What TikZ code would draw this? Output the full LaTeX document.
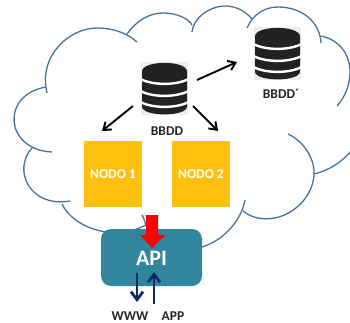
\documentclass[tikz,border=0pt]{standalone}
\usepackage{fontspec}
\setmainfont{Carlito}
\usetikzlibrary{arrows.meta}
\definecolor{cloudc}{HTML}{4A7299}
\definecolor{nodoc}{HTML}{FFC010}
\definecolor{apic}{HTML}{31859C}
\definecolor{navyc}{HTML}{10286A}
\definecolor{dbc}{HTML}{222222}
\definecolor{dbbg}{HTML}{EDEDED}
\tikzset{
  cloudarc/.style={draw=cloudc,line width=1.3pt},
  nodobox/.style={fill=nodoc,minimum width=58pt,minimum height=66pt,inner sep=0pt,text=white,font=\fontsize{13.5}{14}\selectfont\bfseries},
  apibox/.style={fill=apic,rounded corners=10pt,minimum width=101pt,minimum height=57pt,inner sep=0pt},
  dbbox/.style={fill=dbbg,minimum width=47pt,minimum height=53pt,inner sep=0pt},
  dblabel/.style={inner sep=0pt,text=black!85,font=\fontsize{13.5}{14}\selectfont\bfseries},
  bottomlabel/.style={inner sep=0pt,text=black!85,font=\fontsize{13.5}{14}\selectfont\bfseries},
  blackarrow/.style={draw=black,line width=1.9pt,-{Straight Barb[length=7pt,width=10pt,line width=1.9pt]}},
  navyarrow/.style={draw=navyc,line width=2.8pt,-{Straight Barb[length=8pt,width=12pt,line width=2.8pt]}},
  redarrow/.style={draw=none,fill=red}
}
\newcommand{\dbicon}[1]{%
  \begin{scope}[shift={(#1)}]
    \fill[dbc] (-22.5,-17) .. controls (-22.5,-28.5) and (22.5,-28.5) .. (22.5,-17)
      -- (22.5,18) .. controls (22.5,28.5) and (-22.5,28.5) .. (-22.5,18) -- cycle;
    \foreach \yy in {-9.5,2.5,13.5}{
      \draw[white,line width=2.4pt] (-24,\yy) .. controls (-12,\yy+6.5) and (12,\yy+6.5) .. (24,\yy);
    }
  \end{scope}}
\begin{document}
\begin{tikzpicture}[x=1pt,y=-1pt]
\useasboundingbox (0,0) rectangle (350,323);
\begin{scope}
\clip (0,0) rectangle (350,323);
\draw[cloudarc] (52,152) .. controls (5,150) and (0,95) .. (46,87);
\draw[cloudarc] (47,93) .. controls (38,55) and (70,28) .. (97,28) .. controls (113,28) and (127,33) .. (137,42);
\draw[cloudarc] (127,34) .. controls (137,20) and (150,13) .. (163,13) .. controls (176,13) and (188,18) .. (192,25);
\draw[cloudarc] (192,32) .. controls (193,18) and (210,6) .. (225,6) .. controls (238,6) and (247,13) .. (252,19);
\draw[cloudarc] (247,28) .. controls (253,14) and (265,7) .. (278,7) .. controls (302,7) and (320,22) .. (321,43);
\draw[cloudarc] (321,36) .. controls (340,40) and (350,55) .. (350,72) .. controls (350,85) and (345,97) .. (337,106);
\draw[cloudarc] (288,134) .. controls (305,142) and (315,160) .. (314,175) .. controls (312,208) and (270,232) .. (243,211);
\draw[cloudarc] (314,174) .. controls (330,170) and (342,162) .. (352,150);
\draw[cloudarc] (245,200) .. controls (241,222) and (222,241) .. (202,247);
\draw[cloudarc] (32,148) .. controls (12,170) and (30,208) .. (70,201);
\draw[cloudarc] (62,204) .. controls (72,226) and (112,243) .. (146,225);
\draw[cloudarc] (142,215) .. controls (144,218) and (145,222) .. (146,226);
\end{scope}

\node[nodobox] (nodo1) at (113,174) {NODO 1};
\node[nodobox] (nodo2) at (201,174) {NODO 2};
\node[apibox] (api) at (151.5,257.5) {};
\node[inner sep=0pt,text=white,font=\fontsize{22}{22}\selectfont\bfseries] (apitxt) at (151.5,258) {API};

\node[dbbox] (db1) at (164.5,88.5) {};
\dbicon{164.5,88.5}
\node[dbbox] (db2) at (277.5,53.5) {};
\dbicon{277.5,53.5}
\node[dblabel] (db1txt) at (167,131) {BBDD};
\node[dblabel] (db2txt) at (281,94) {BBDD´};

\coordinate (a1s) at (133,106); \coordinate (a1e) at (102,131);
\coordinate (a2s) at (197,80);  \coordinate (a2e) at (237,62);
\coordinate (a3s) at (193,106); \coordinate (a3e) at (218,131);
\draw[blackarrow] (a1s) -- (a1e);
\draw[blackarrow] (a2s) -- (a2e);
\draw[blackarrow] (a3s) -- (a3e);

\fill[redarrow] (146,215) -- (158,215) -- (158,235) -- (165,235) -- (152,248) -- (140,235) -- (146,235) -- cycle;

\node[bottomlabel] (www) at (130,316) {WWW};
\node[bottomlabel] (app) at (173,316) {APP};
\coordinate (ws) at (137,273); \coordinate (we) at (137,302);
\coordinate (as) at (154,304); \coordinate (ae) at (154,272);
\draw[navyarrow] (ws) -- (we);
\draw[navyarrow] (as) -- (ae);
\end{tikzpicture}
\end{document}
